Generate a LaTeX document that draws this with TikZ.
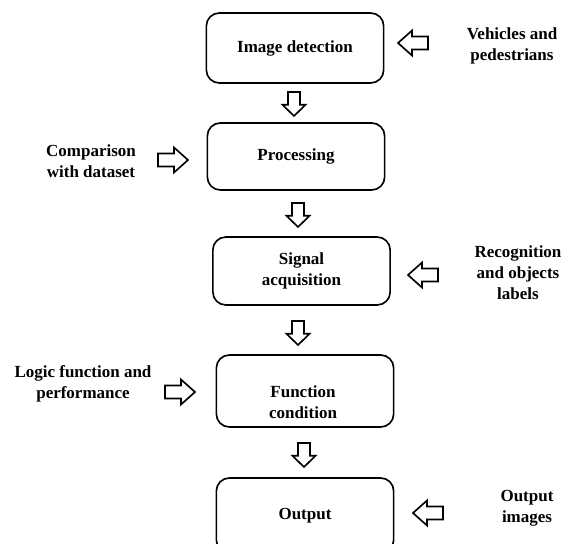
\documentclass[tikz,border=0pt]{standalone}
\usepackage{fontspec}
\setmainfont{Liberation Serif}
\usetikzlibrary{positioning}

\begin{document}
\begin{tikzpicture}[
x=0.3mm, y=-0.3mm,
stage/.style={draw, line width=1.4pt, rounded corners=3.9mm,
  minimum width=53.2mm, inner sep=0pt, align=center,
  font=\fontsize{14.5}{17.5}\selectfont\bfseries},
note/.style={align=center, font=\fontsize{14.5}{18}\selectfont\bfseries},
hollow/.pic={
  \draw[line width=1.4pt, line join=miter]
    (-15,-6.5) -- (1,-6.5) -- (1,-12.5) -- (15,0) -- (1,12.5) -- (1,6.5) -- (-15,6.5) -- cycle;}
]
\useasboundingbox (0,0) rectangle (575,543);

\node[stage, minimum height=21mm] (detect) at (295,48) {Image detection};
\node[stage, minimum height=20.1mm] (proc) at (296,156.5) {Processing};
\node[stage, minimum height=20.4mm] (signal) at (301.5,271) {Signal\\acquisition};
\node[stage, minimum height=21.6mm] (func) at (305,391) {};
\node[note] (functext) at (303,402.5) {Function\\condition};
\node[stage, minimum height=22.5mm] (out) at (305,515.5) {Output};

\node[note] (vehicles) at (512,46) {Vehicles and\\pedestrians};
\node[note] (compare) at (91,161) {Comparison\\with dataset};
\node[note] (recog) at (518,273) {Recognition\\and objects\\labels};
\node[note] (logic) at (83,384) {Logic function and\\performance};
\node[note] (outimg) at (527,508) {Output\\images};

% side arrows
\path
  (413,43) pic[rotate=180] {hollow}
  (173,160) pic {hollow}
  (423,275) pic[rotate=180] {hollow}
  (180,392) pic {hollow}
  (428,513) pic[rotate=180] {hollow};

% down arrows
\path
  (294,104) pic[rotate=-90, xscale=0.8, yscale=0.92] {hollow}
  (298,215) pic[rotate=-90, xscale=0.8, yscale=0.92] {hollow}
  (298,333) pic[rotate=-90, xscale=0.8, yscale=0.92] {hollow}
  (304,455) pic[rotate=-90, xscale=0.8, yscale=0.92] {hollow};

\end{tikzpicture}
\end{document}
